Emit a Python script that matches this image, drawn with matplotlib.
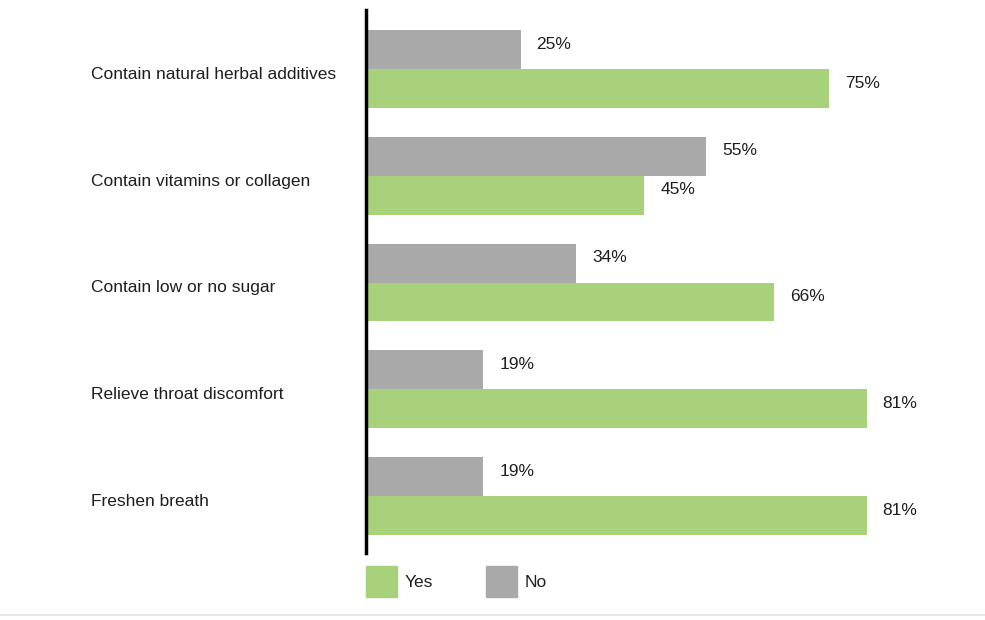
import matplotlib.pyplot as plt
from matplotlib.patches import Patch
from matplotlib.transforms import blended_transform_factory

plt.rcParams['font.family'] = ['Liberation Sans', 'DejaVu Sans']

categories = ["Contain natural herbal additives",
              "Contain vitamins or collagen",
              "Contain low or no sugar",
              "Relieve throat discomfort",
              "Freshen breath"]
yes_vals = [75, 45, 66, 81, 81]
no_vals = [25, 55, 34, 19, 19]

GREEN = "#a7d17b"
GRAY = "#a9a9a9"
TEXT = "#1e1e1e"

fig = plt.figure(figsize=(9.85, 6.2), dpi=100)
ax = fig.add_axes([366 / 985, 1 - 553 / 620, 618 / 985, 543 / 620])

h = 0.365
ys = list(range(len(categories)))
ax.barh([y - h / 2 for y in ys], no_vals, height=h, color=GRAY)
ax.barh([y + h / 2 for y in ys], yes_vals, height=h, color=GREEN)

for y, n, v in zip(ys, no_vals, yes_vals):
    ax.text(n + 2.6, y - h / 2 - 0.05, f"{n}%", va="center", ha="left",
            fontsize=12.5, color=TEXT)
    ax.text(v + 2.6, y + h / 2 - 0.05, f"{v}%", va="center", ha="left",
            fontsize=12.5, color=TEXT)

trans = blended_transform_factory(fig.transFigure, ax.transData)
for y, c in zip(ys, categories):
    ax.text(91 / 985, y + 0.05, c, transform=trans, va="center", ha="left",
            fontsize=12.5, color=TEXT)

ax.set_xlim(0, 100)
ax.set_ylim(len(categories) - 1 + 0.534, -0.553)
ax.set_xticks([])
ax.set_yticks([])
for s in ["top", "right", "bottom"]:
    ax.spines[s].set_visible(False)
ax.spines["left"].set_linewidth(2.5)
ax.spines["left"].set_color("#000000")

handles = [Patch(color=GREEN, label="Yes"), Patch(color=GRAY, label="No")]
fig.legend(handles=handles, loc="upper left", ncol=2,
           bbox_to_anchor=(366 / 985, 1 - 566 / 620), frameon=False,
           borderpad=0, borderaxespad=0, handlelength=1.8, handleheight=2.4,
           handletextpad=0.45, columnspacing=3.0, fontsize=12.5,
           labelcolor=TEXT)

fig.add_artist(plt.Line2D([0, 1], [1 - 615 / 620] * 2, color="#e6e6e6",
                          linewidth=1.5, transform=fig.transFigure))

fig.savefig("out.png", dpi=100)
